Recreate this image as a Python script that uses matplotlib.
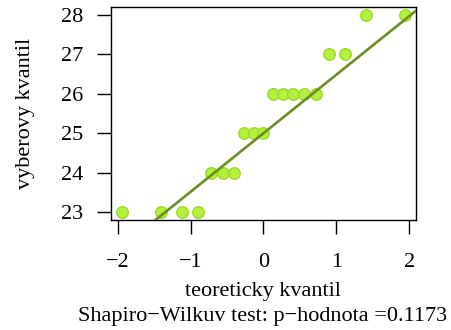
import numpy as np
import matplotlib.pyplot as plt

# teoreticke kvantily normalniho rozdeleni (n = 19)
teor_kvantil = [-1.94, -1.41, -1.12, -0.90, -0.72, -0.55, -0.41, -0.27, -0.13, 0.00,
                0.13, 0.27, 0.41, 0.55, 0.72, 0.90, 1.12, 1.41, 1.94]
# serazene hodnoty vyberu
vyber = [23, 23, 23, 23, 24, 24, 24, 25, 25, 25,
         26, 26, 26, 26, 26, 27, 27, 28, 28]
p_hodnota = 0.1173

plt.rcParams['font.family'] = ['Liberation Serif', 'DejaVu Serif']
plt.rcParams['font.size'] = 16

fig = plt.figure(figsize=(4.51, 3.30), dpi=100)
ax = fig.add_axes([0.2461, 0.3333, 0.6763, 0.6455])

ax.plot(teor_kvantil, vyber, 'o', ms=8.3, mfc='#b3f23a', mec='#9fd62e', mew=1, zorder=3)

# qqline: primka pres 1. a 3. kvartil
y1, y3 = np.percentile(vyber, [25, 75])
x1, x3 = -0.6745, 0.6745
sklon = (y3 - y1) / (x3 - x1)
posun = y1 - sklon * x1
ax.axline((0, posun), slope=sklon, color='#6b8e23', lw=1.9, zorder=4)

ax.set_xlim(-2.095, 2.095)
ax.set_ylim(22.8, 28.2)
ax.set_xticks([-2, -1, 0, 1, 2])
ax.set_xticklabels(['\u22122', '\u22121', '0', '1', '2'])
ax.set_yticks([23, 24, 25, 26, 27, 28])
ax.tick_params(direction='out', length=10, width=1)
ax.tick_params(axis='x', pad=14)
ax.tick_params(axis='y', pad=10)
for s in ax.spines.values():
    s.set_linewidth(1)

ax.set_xlabel('teoreticky kvantil', labelpad=7)
ax.set_ylabel('vyberovy kvantil', labelpad=19)
fig.text(0.583, 0.04, 'Shapiro\u2212Wilkuv test: p\u2212hodnota =' + str(p_hodnota),
         ha='center', va='center')

fig.savefig('out.png', dpi=100)
